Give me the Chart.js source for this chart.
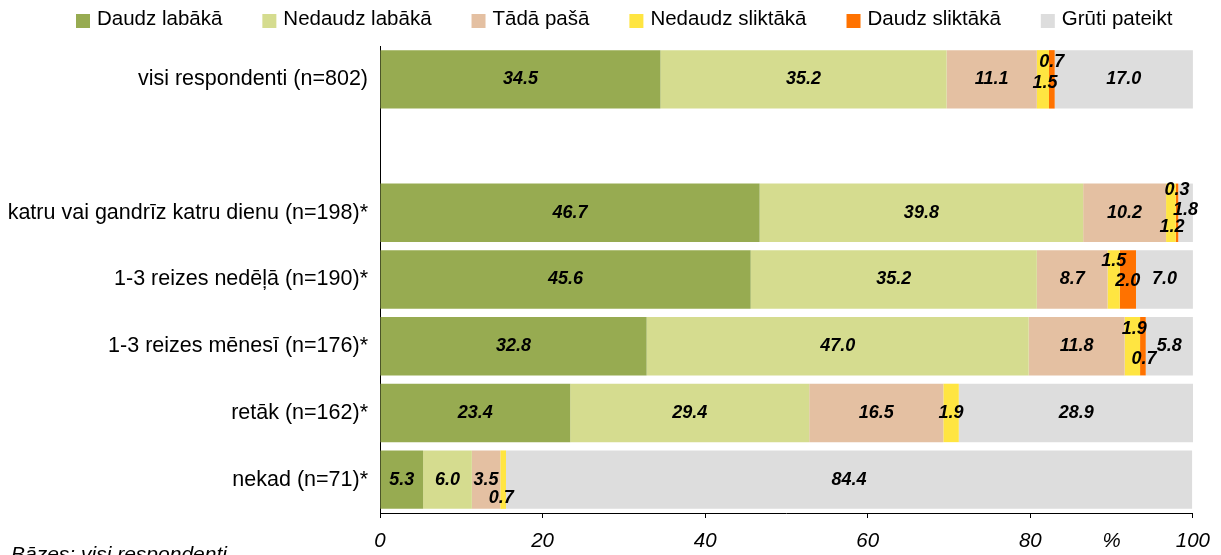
<!DOCTYPE html>
<html>
<head>
<meta charset="utf-8">
<script src="https://cdn.jsdelivr.net/npm/chart.js@4.4.0/dist/chart.umd.min.js"></script>
<style>
  html, body { margin: 0; padding: 0; background: #fff; }
  #wrap { width: 1221px; height: 555px; position: relative; }
</style>
</head>
<body>
<div id="wrap"><canvas id="aptauja"></canvas></div>
<script>
// kategorijas (tukšā rinda ir atstarpe starp kopējo un grupām)
var kategorijas = [
    'visi respondenti (n=802)',
    '',
    'katru vai gandrīz katru dienu (n=198)*',
    '1-3 reizes nedēļā (n=190)*',
    '1-3 reizes mēnesī (n=176)*',
    'retāk (n=162)*',
    'nekad (n=71)*'
];

var daudzLabaka     = [34.5, null, 46.7, 45.6, 32.8, 23.4, 5.3];
var nedaudzLabaka   = [35.2, null, 39.8, 35.2, 47.0, 29.4, 6.0];
var tadaPasa        = [11.1, null, 10.2, 8.7, 11.8, 16.5, 3.5];
var nedaudzSliktaka = [1.5, null, 1.2, 1.5, 1.9, 1.9, 0.7];
var daudzSliktaka   = [0.7, null, 0.3, 2.0, 0.7, null, null];
var grutiPateikt    = [17.0, null, 1.8, 7.0, 5.8, 28.9, 84.4];

var xTicks = [0, 20, 40, 60, 80, 100];

var fonts = '"Liberation Sans", Arial, sans-serif';

// mazo vērtību uzrakstu nobīdes (rinda-datu kopa: [dx, dy])
var nobides = {
    '0-3': [2, 4],   '0-4': [0, -17],
    '2-3': [1, 14],  '2-4': [0, -23], '2-5': [0, -3],
    '3-3': [0, -18], '3-4': [0, 2],
    '4-3': [2, -17], '4-4': [1, 13],
    '6-3': [-2, 18]
};

var vertibuUzraksti = {
    id: 'vertibuUzraksti',
    afterDatasetsDraw: function(chart) {
        var ctx = chart.ctx;
        ctx.save();
        ctx.font = 'italic bold 18px ' + fonts;
        ctx.fillStyle = '#000';
        ctx.textAlign = 'center';
        ctx.textBaseline = 'middle';
        chart.data.datasets.forEach(function(ds, di) {
            var meta = chart.getDatasetMeta(di);
            meta.data.forEach(function(bar, i) {
                var v = ds.data[i];
                if (v === null || v === undefined) return;
                var off = nobides[i + '-' + di] || [0, 0];
                ctx.fillText(v.toFixed(1), bar.base + (bar.x - bar.base) / 2 + off[0], bar.y + off[1]);
            });
        });
        ctx.restore();
    }
};

// leģenda augšā, zīmēta no datu kopām
var legenda = {
    id: 'legenda',
    afterDraw: function(chart) {
        var ctx = chart.ctx;
        ctx.save();
        ctx.font = '20.5px ' + fonts;
        ctx.textAlign = 'left';
        ctx.textBaseline = 'alphabetic';
        var x = 76;
        chart.data.datasets.forEach(function(ds) {
            ctx.fillStyle = ds.backgroundColor;
            ctx.fillRect(x, 14, 14, 14);
            ctx.fillStyle = '#000';
            ctx.fillText(ds.label, x + 21, 25);
            x += 21 + ctx.measureText(ds.label).width + 40;
        });
        ctx.restore();
    }
};

var bazesTeksts = {
    id: 'bazesTeksts',
    afterDraw: function(chart) {
        var ctx = chart.ctx;
        ctx.save();
        ctx.font = 'italic 21px ' + fonts;
        ctx.fillStyle = '#000';
        ctx.textAlign = 'left';
        ctx.textBaseline = 'alphabetic';
        ctx.fillText('Bāzes: visi respondenti', 11, 561);
        ctx.restore();
    }
};

document.addEventListener('DOMContentLoaded', function() {
    var ctx = document.getElementById('aptauja').getContext('2d');

    var dati = {
        labels: kategorijas,
        datasets: [
            { label: 'Daudz labākā', data: daudzLabaka, backgroundColor: '#97AB51' },
            { label: 'Nedaudz labākā', data: nedaudzLabaka, backgroundColor: '#D5DC8F' },
            { label: 'Tādā pašā', data: tadaPasa, backgroundColor: '#E4C0A2' },
            { label: 'Nedaudz sliktākā', data: nedaudzSliktaka, backgroundColor: '#FFE541' },
            { label: 'Daudz sliktākā', data: daudzSliktaka, backgroundColor: '#FF7200' },
            { label: 'Grūti pateikt', data: grutiPateikt, backgroundColor: '#DDDDDD' }
        ]
    };

    var options = {
        indexAxis: 'y',
        responsive: true,
        maintainAspectRatio: false,
        animation: false,
        datasets: {
            bar: { categoryPercentage: 0.876, barPercentage: 1.0, borderWidth: 0 }
        },
        layout: { padding: { left: 0, right: 28, top: 46, bottom: 0 } },
        scales: {
            x: {
                stacked: true,
                min: 0,
                max: 100,
                afterBuildTicks: function(axis) {
                    var t = [];
                    for (var v = 0; v <= 100; v += 10) t.push({ value: v });
                    axis.ticks = t;
                },
                afterFit: function(scale) { scale.height = 42; },
                grid: {
                    drawOnChartArea: false,
                    tickLength: 5,
                    tickColor: function(c) {
                        return xTicks.indexOf(c.tick.value) >= 0 ? '#000' : 'rgba(0,0,0,0)';
                    }
                },
                border: { display: true, color: '#000', width: 1 },
                ticks: {
                    autoSkip: false,
                    maxRotation: 0,
                    padding: 11,
                    color: '#000',
                    font: { family: fonts, size: 20.5, style: 'italic' },
                    callback: function(value) {
                        if (value === 90) return '%';
                        return xTicks.indexOf(value) >= 0 ? String(value) : '';
                    }
                }
            },
            y: {
                stacked: true,
                afterFit: function(scale) { scale.width = 380; },
                grid: { display: false },
                border: { display: true, color: '#000', width: 1 },
                ticks: {
                    padding: 4,
                    color: '#000',
                    font: { family: fonts, size: 21.5 }
                }
            }
        },
        plugins: {
            legend: { display: false },
            tooltip: { enabled: false }
        }
    };

    new Chart(ctx, {
        type: 'bar',
        data: dati,
        options: options,
        plugins: [vertibuUzraksti, legenda, bazesTeksts]
    });
});
</script>
</body>
</html>
